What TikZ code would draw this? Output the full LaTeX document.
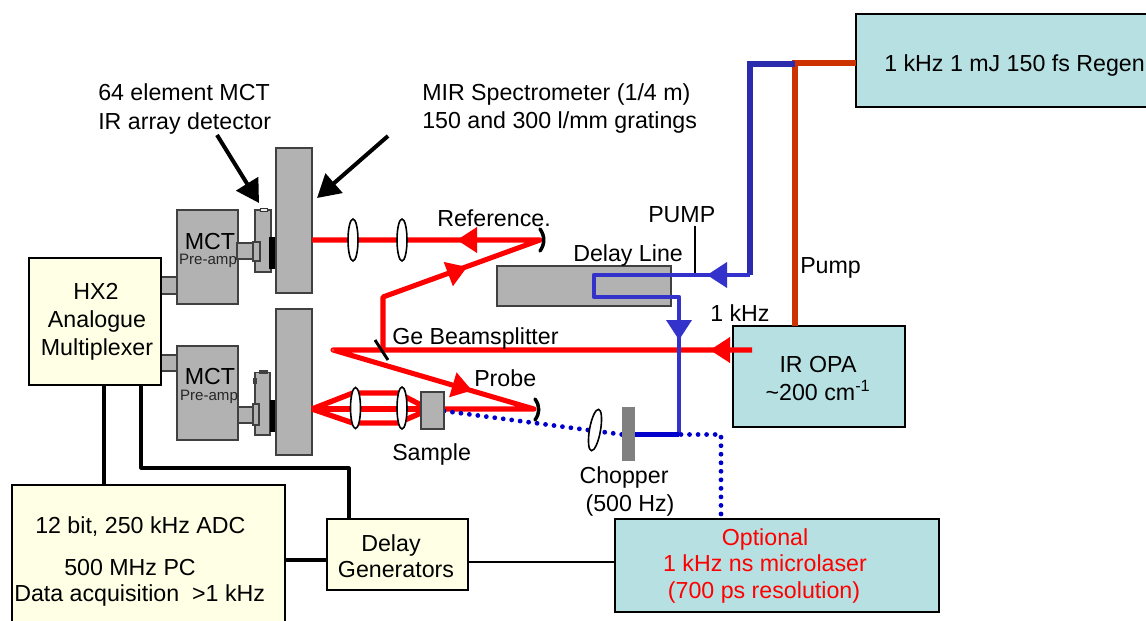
\documentclass[tikz,border=0pt]{standalone}
\usepackage{fontspec}
\setmainfont{Liberation Sans}
\usetikzlibrary{arrows.meta}
\definecolor{teal}{HTML}{B7E0E2}
\definecolor{cream}{HTML}{FFFFE5}
\definecolor{greybox}{HTML}{B2B2B2}
\definecolor{beamred}{HTML}{FF0000}
\definecolor{pumpblue}{HTML}{3333CC}
\definecolor{deepblue}{HTML}{0000CC}
\definecolor{orangebeam}{HTML}{CC3300}
\tikzset{
 x=0.75pt,y=-0.75pt,
 lbl/.style={inner sep=0pt,anchor=base west,yshift=-6.2pt,font=\fontsize{17.4}{20}\selectfont,text=black},
 ctr/.style={inner sep=0pt,anchor=base,yshift=-6.2pt,font=\fontsize{17.4}{20}\selectfont,text=black},
 mini/.style={inner sep=0pt,anchor=center,font=\fontsize{11.3}{13}\selectfont,text=black!85},
 tealbox/.style={draw=black,line width=0.9pt,fill=teal},
 creambox/.style={draw=black,line width=0.8pt,fill=cream},
 grey/.style={draw=black!75,line width=0.8pt,fill=greybox},
 lens/.style={draw=black,line width=1.2pt,fill=white},
 redbeam/.style={draw=beamred,line width=3.8pt,line join=round},
 thinred/.style={draw=beamred,line width=4pt,line join=round},
 bluebeam/.style={draw=pumpblue,line width=3.6pt,line join=round},
 orangeline/.style={draw=orangebeam,line width=4.4pt},
 dotbeam/.style={draw=deepblue,line width=3.6pt,line cap=round,dash pattern=on 0pt off 6.4pt},
 wire/.style={draw=black,line width=2.4pt,line join=round},
 redtip/.style={-{Triangle[length=15pt,width=19pt]}},
 bluetip/.style={-{Triangle[length=15pt,width=19pt]}},
 pointer/.style={draw=black,line width=3pt,-{Triangle[length=17pt,width=19pt]}},
 mirror/.style={draw=black,line width=2.6pt,line cap=round},
}
\begin{document}
\begin{tikzpicture}
\useasboundingbox (0,0) rectangle (1146,621);
\clip (0,0) rectangle (1146,621);
% boxes
\draw[tealbox] (856,14) rectangle (1160,107);
\coordinate (regenout) at (856,63);
\draw[tealbox] (733,326) rectangle (905,427);
\draw[tealbox] (615,519) rectangle (939,612);
\coordinate (opatop) at (795,326);
\coordinate (optop) at (721,519);
\coordinate (opleft) at (615,562);
% connectors HX2 to MCT
\draw[grey] (158,277) rectangle (180,294);
\draw[grey] (158,355) rectangle (178,371);
\draw[creambox] (29,258) rectangle (161,385);
% black wires
\draw[creambox] (12,485) rectangle (285,640);
\draw[creambox] (327,519) rectangle (468,590);
\draw[wire] (104,385) -- (104,485);
\draw[wire] (141,385) -- (141,468) -- (349,468) -- (349,519);
\draw[wire] (285,560) -- (327,560);
\draw[draw=black,line width=0.8pt] (468,562) -- (opleft);
% spectrometers and MCT
\draw[grey] (276,148) rectangle (312,293);
\draw[grey] (276,309) rectangle (312,455);
\draw[grey] (177,210) rectangle (238,304);
\draw[grey] (177,346) rectangle (238,440);
% upper detector
\draw[grey] (237,243) rectangle (255,259);
\draw[grey] (255,210) rectangle (271,272);
\draw[grey] (253,242) rectangle (260,261);
\draw[draw=black!80,line width=0.6pt,fill=white!80!greybox] (260,208) rectangle (267,211);
\fill[black] (269,237) rectangle (275,269);
% lower detector
\draw[grey] (238,407) rectangle (255,423);
\draw[grey] (255,372.5) rectangle (270,435);
\draw[grey] (253,404) rectangle (259,425);
\draw[grey] (260,371) rectangle (267,373);
\draw[grey] (254,379) rectangle (256,383);
\fill[black] (269.5,400) rectangle (274.5,432);
% delay line box
\draw[grey] (497,266) rectangle (671,306);
% named beam points
\coordinate (specup) at (312,240);
\coordinate (speclow) at (312,409);
\coordinate (refm) at (540,240);
\coordinate (probem) at (534,409);
\coordinate (bend) at (383,297);
\coordinate (bsp) at (383,350);
\coordinate (turn) at (333,350);
\coordinate (opaout) at (752,350);
% red beams
\draw[redbeam] (specup) -- (refm) -- (bend) -- (bsp);
\draw[redbeam] (opaout) -- (bsp) -- (turn) -- (probem) -- (444,409);
\draw[redbeam] (speclow) -- (421,409);
\draw[thinred] (speclow) -- (353,393) -- (398,393) -- (421,405);
\draw[thinred] (speclow) -- (353,423) -- (398,423) -- (421,413);
\draw[beamred,fill=white,line width=0.6pt] (333,350) circle (1.5);
\draw[beamred,redtip,line width=2pt] (500,240) -- (457,240);
\draw[beamred,redtip,line width=2pt] (430,281) -- (467,267);
\draw[beamred,redtip,line width=2pt] (745,350) -- (710,350);
\draw[beamred,redtip,line width=2pt] (440,381) -- (472,390.5);
% pump lines
\draw[orangeline] (regenout) -- (795,63) -- (opatop);
\draw[draw=pumpblue!85!black,line width=3.8pt] (795,64) -- (750,64) -- (750,275);
\draw[bluebeam] (750,275) -- (594,275) -- (594,297) -- (679,297) -- (679,435);
\draw[draw=deepblue,line width=3.8pt] (635,434.5) -- (679,434.5);
\draw[pumpblue,bluetip,line width=2pt] (740,275) -- (707,275);
\draw[pumpblue,bluetip,line width=2pt] (679,310) -- (679,340);
\draw[draw=black,line width=0.8pt] (695,226) -- (695,273);
% dotted lines
\draw[dotbeam] (444,411) -- (622,434.5);
\draw[dotbeam] (681,434.5) -- (721,434.5) -- (optop);
% sample, chopper, lenses, mirrors
\draw[grey] (421,392) rectangle (444,429);
\fill[black!50] (622,407) rectangle (635,461);
\draw[lens] (353,240) ellipse (5 and 21);
\draw[lens] (402,240) ellipse (5 and 21);
\draw[lens] (355.5,408) ellipse (5 and 20.5);
\draw[lens] (402,408) ellipse (5 and 21);
\draw[lens,rotate around={-10:(595,430)}] (595,430) ellipse (5.5 and 21);
\draw[mirror] (540,229) .. controls (545,236) and (545,244) .. (540,251);
\draw[mirror] (535,399) .. controls (540,406) and (540,413) .. (535,420);
\draw[draw=black,line width=2.2pt] (375,340) -- (388,360);
% pointers
\coordinate (detarrow) at (217,135);
\coordinate (specarrow) at (388,136);
\draw[pointer] (detarrow) -- (259,203);
\draw[pointer] (specarrow) -- (317,198);
% labels
\node[lbl] (regen) at (884,63) {1 kHz 1 mJ 150 fs Regen};
\node[lbl] (l64) at (98,92) {64 element MCT};
\node[lbl] (lir) at (98,121) {IR array detector};
\node[lbl] (lmir) at (422,92) {MIR Spectrometer (1/4 m)};
\node[lbl] (lgrat) at (422,120) {150 and 300 l/mm gratings};
\node[lbl] (lref) at (437,218) {Reference.};
\node[lbl] (lpump) at (648,214) {PUMP};
\node[lbl] (ldelay) at (573,253) {Delay Line};
\node[lbl] (lPump) at (800,265) {Pump};
\node[lbl] (lk) at (710,313) {1 kHz};
\node[lbl] (lge) at (392,336) {Ge Beamsplitter};
\node[lbl] (lprobe) at (474,378) {Probe};
\node[lbl] (lsample) at (392,452) {Sample};
\node[ctr] (lchop) at (624,475) {Chopper};
\node[ctr] (l500) at (630,503) {(500 Hz)};
\node[ctr] (lopa) at (818,364) {IR OPA};
\node[ctr] (lcm) at (818,392) {\textasciitilde200 cm\textsuperscript{-1}};
\node[ctr,text=beamred] (lopt1) at (765,537) {Optional};
\node[ctr,text=beamred] (lopt2) at (765,563) {1 kHz ns microlaser};
\node[ctr,text=beamred] (lopt3) at (764,590) {(700 ps resolution)};
\node[ctr] (lhx1) at (96,291) {HX2};
\node[ctr] (lhx2) at (97,319) {Analogue};
\node[ctr] (lhx3) at (97,347) {Multiplexer};
\node[ctr] (ldg1) at (391,543) {Delay};
\node[ctr] (ldg2) at (396,569) {Generators};
\node[lbl] (ladc) at (35,525) {12 bit, 250 kHz ADC};
\node[lbl] (lpc) at (64,567) {500 MHz PC};
\node[lbl] (lacq) at (14,593) {Data acquisition\ \ >1 kHz};
\node[ctr] (m1) at (210,241) {MCT};
\node[mini] (p1) at (208,260.5) {Pre-amp};
\node[ctr] (m2) at (210,376) {MCT};
\node[mini] (p2) at (209,397) {Pre-amp};
\end{tikzpicture}
\end{document}
